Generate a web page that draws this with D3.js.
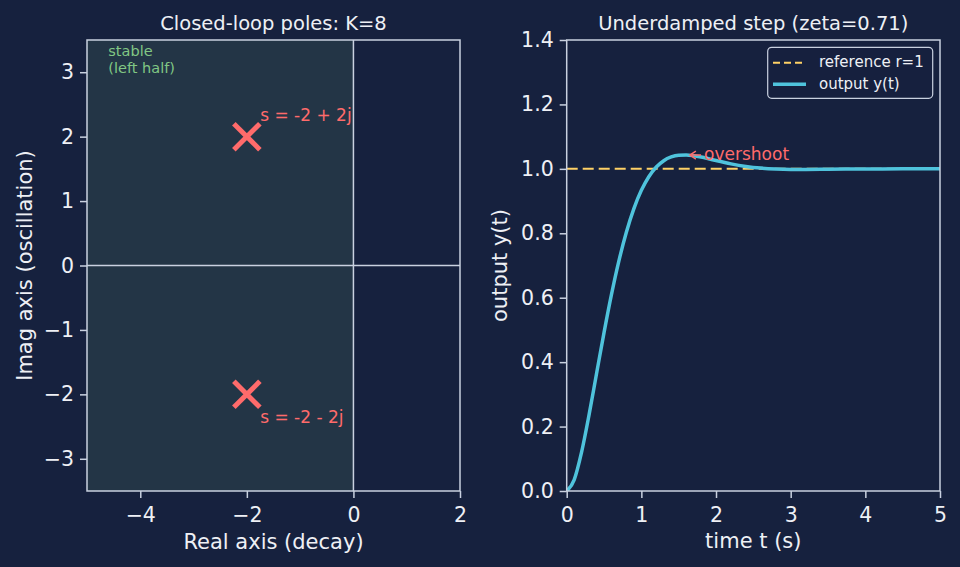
<!DOCTYPE html>
<html><head><meta charset="utf-8">
<script src="https://cdn.jsdelivr.net/npm/d3@7"></script>
<style>
html,body{margin:0;padding:0;background:#16213e;}
svg{display:block;font-family:"DejaVu Sans",sans-serif;}
</style></head>
<body>
<svg id="c" width="960" height="567"></svg>
<script>
// ---- data ----
const poleRe = [-2, -2];
const poleIm = [2, -2];
const poleLabels = ["s = -2 + 2j", "s = -2 - 2j"];
const poleLabelRe = [-1.75, -1.75];
const poleLabelIm = [2.25, -2.25];
const leftXTicks = [-4, -2, 0, 2];
const leftYTicks = [-3, -2, -1, 0, 1, 2, 3];

const timeT = [0,0.1,0.2,0.3,0.4,0.5,0.6,0.7,0.8,0.9,1.0,1.1,1.2,1.3,1.4,1.5,1.6,1.7,1.8,1.9,2.0,2.2,2.4,2.6,2.8,3.0,3.2,3.5,4.0,4.5,5.0];
const outputY = [0,0.0349,0.1216,0.2372,0.3646,0.4917,0.6101,0.7151,0.8041,0.8766,0.9333,0.9756,1.0056,1.0254,1.0369,1.0423,1.0431,1.0408,1.0366,1.0314,1.0258,1.0155,1.0075,1.0023,0.9995,0.9983,0.9982,0.9987,0.9997,1.0,1.0];
const refT = [0, 5];
const refY = [1, 1];
const rightXTicks = [0, 1, 2, 3, 4, 5];
const rightYTicks = [0, 0.2, 0.4, 0.6, 0.8, 1.0, 1.2, 1.4];
const overshootTip = [1.65, 1.043];
const overshootText = [1.84, 1.0275];

// ---- style ----
const BG = "#16213e", SPINE = "#c9d1e0", TXT = "#eef0f5";
const POLE = "#ff6b6b", CYAN = "#4fc3dc", YEL = "#ffd166", GREEN = "#81c784";

const svg = d3.select("#c");
svg.append("rect").attr("width",960).attr("height",567).attr("fill",BG);

function styleAxis(g){
  g.selectAll("path.domain").remove();
  g.selectAll(".tick line").attr("stroke",SPINE).attr("stroke-width",1.5);
  g.selectAll(".tick text").attr("fill",TXT).attr("font-size","20.5px").attr("font-family","DejaVu Sans");
}

// ================= LEFT =================
const xL = d3.scaleLinear([-5,2],[87,460]);
const yL = d3.scaleLinear([-3.5,3.5],[491,40]);
const L = svg.append("g");

L.append("rect").attr("x",xL(-5)).attr("y",yL(3.5)).attr("width",xL(0)-xL(-5)).attr("height",yL(-3.5)-yL(3.5))
  .attr("fill",GREEN).attr("fill-opacity",0.12);
L.append("line").attr("x1",xL(0)).attr("x2",xL(0)).attr("y1",yL(3.5)).attr("y2",yL(-3.5)).attr("stroke",SPINE).attr("stroke-width",1.5);
L.append("line").attr("x1",xL(-5)).attr("x2",xL(2)).attr("y1",yL(0)).attr("y2",yL(0)).attr("stroke",SPINE).attr("stroke-width",1.5);

L.append("text").attr("x",xL(-4.6)).attr("y",55.5).attr("fill",GREEN).attr("font-size","14.5px").text("stable");
L.append("text").attr("x",xL(-4.6)).attr("y",73).attr("fill",GREEN).attr("font-size","14.5px").text("(left half)");

poleRe.forEach((r,i)=>{
  const cx = xL(r), cy = yL(poleIm[i]), h = 13;
  const g = L.append("g").attr("stroke",POLE).attr("stroke-width",5);
  g.append("line").attr("x1",cx-h).attr("y1",cy-h).attr("x2",cx+h).attr("y2",cy+h);
  g.append("line").attr("x1",cx-h).attr("y1",cy+h).attr("x2",cx+h).attr("y2",cy-h);
  const t = L.append("text").attr("x",xL(poleLabelRe[i])).attr("y",yL(poleLabelIm[i]))
    .attr("fill",POLE).attr("font-size","17px").text(poleLabels[i]);
  if (poleLabelIm[i] < 0) t.attr("dy","0.76em");
});

L.append("g").attr("transform",`translate(0,491)`).call(d3.axisBottom(xL).tickValues(leftXTicks).tickSize(7).tickPadding(9).tickFormat(d3.format("d"))).call(styleAxis);
L.append("g").attr("transform",`translate(87,0)`).call(d3.axisLeft(yL).tickValues(leftYTicks).tickSize(7).tickPadding(6).tickFormat(d3.format("d"))).call(styleAxis);
L.append("rect").attr("x",87).attr("y",40).attr("width",373).attr("height",451).attr("fill","none").attr("stroke",SPINE).attr("stroke-width",1.5);

L.append("text").attr("x",273.5).attr("y",30).attr("text-anchor","middle").attr("fill",TXT).attr("font-size","19.5px").text("Closed-loop poles: K=8");
L.append("text").attr("x",273.5).attr("y",549).attr("text-anchor","middle").attr("fill",TXT).attr("font-size","21px").text("Real axis (decay)");
L.append("text").attr("transform","translate(32,265.5) rotate(-90)").attr("text-anchor","middle").attr("fill",TXT).attr("font-size","21px").text("Imag axis (oscillation)");

// ================= RIGHT =================
const xR = d3.scaleLinear([0,5],[566.7,940]);
const yR = d3.scaleLinear([0,1.4],[491,40]);
const R = svg.append("g");
svg.append("defs").append("clipPath").attr("id","clipR").append("rect").attr("x",566.7).attr("y",40).attr("width",373.3).attr("height",451);

const line = d3.line().x((d)=>xR(d[0])).y((d)=>yR(d[1]));
const P = R.append("g").attr("clip-path","url(#clipR)");
P.append("path").datum(refT.map((t,i)=>[t,refY[i]])).attr("d",line).attr("fill","none").attr("stroke",YEL).attr("stroke-width",2).attr("stroke-dasharray","11,5");
P.append("path").datum(timeT.map((t,i)=>[t,outputY[i]])).attr("d",line.curve(d3.curveMonotoneX)).attr("fill","none").attr("stroke",CYAN).attr("stroke-width",3.5);

// overshoot annotation
const tx = xR(overshootTip[0]), ty = yR(overshootTip[1]);
const ax = xR(overshootText[0]) - 3;
R.append("line").attr("x1",ax).attr("y1",ty).attr("x2",tx+1).attr("y2",ty).attr("stroke",POLE).attr("stroke-width",1.5);
R.append("path").attr("d",`M${tx+6},${ty-4}L${tx},${ty}L${tx+6},${ty+4}`).attr("fill","none").attr("stroke",POLE).attr("stroke-width",1.5);
R.append("text").attr("x",xR(overshootText[0])).attr("y",yR(overshootText[1])).attr("fill",POLE).attr("font-size","17px").text("overshoot");

R.append("g").attr("transform",`translate(0,491)`).call(d3.axisBottom(xR).tickValues(rightXTicks).tickSize(7).tickPadding(9).tickFormat(d3.format("d"))).call(styleAxis);
R.append("g").attr("transform",`translate(566.7,0)`).call(d3.axisLeft(yR).tickValues(rightYTicks).tickSize(7).tickPadding(6).tickFormat(d3.format(".1f"))).call(styleAxis);
R.append("rect").attr("x",566.7).attr("y",40).attr("width",373.3).attr("height",451).attr("fill","none").attr("stroke",SPINE).attr("stroke-width",1.5);

// legend
const lg = R.append("g");
lg.append("rect").attr("x",767.7).attr("y",47.3).attr("width",165).attr("height",51).attr("rx",4)
  .attr("fill",BG).attr("fill-opacity",0.8).attr("stroke",SPINE).attr("stroke-width",1.2);
lg.append("line").attr("x1",773).attr("x2",806).attr("y1",62.7).attr("y2",62.7).attr("stroke",YEL).attr("stroke-width",2).attr("stroke-dasharray","7,4");
lg.append("line").attr("x1",773).attr("x2",806).attr("y1",84.3).attr("y2",84.3).attr("stroke",CYAN).attr("stroke-width",3.5);
lg.append("text").attr("x",819).attr("y",67).attr("fill",TXT).attr("font-size","15px").text("reference r=1");
lg.append("text").attr("x",819).attr("y",88.5).attr("fill",TXT).attr("font-size","15px").text("output y(t)");

R.append("text").attr("x",753.3).attr("y",30).attr("text-anchor","middle").attr("fill",TXT).attr("font-size","19.5px").text("Underdamped step (zeta=0.71)");
R.append("text").attr("x",753.3).attr("y",548).attr("text-anchor","middle").attr("fill",TXT).attr("font-size","21px").text("time t (s)");
R.append("text").attr("transform","translate(507,265.5) rotate(-90)").attr("text-anchor","middle").attr("fill",TXT).attr("font-size","21px").text("output y(t)");
</script>
</body></html>
